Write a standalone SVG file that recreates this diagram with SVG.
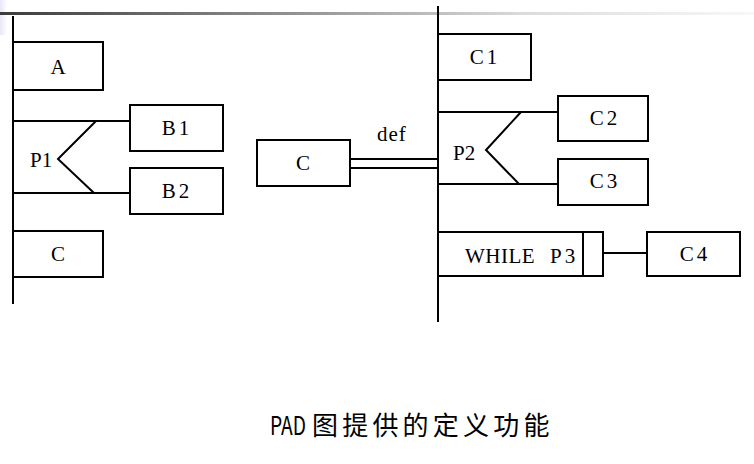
<svg xmlns="http://www.w3.org/2000/svg" width="754" height="464" viewBox="0 0 754 464">
<defs>
<linearGradient id="bar" x1="0" y1="0" x2="1" y2="0">
<stop offset="0" stop-color="#3c3c3c"/>
<stop offset="0.45" stop-color="#a0a0a0"/>
<stop offset="0.7" stop-color="#dcdcdc"/>
<stop offset="1" stop-color="#f8f8f8"/>
</linearGradient>
<linearGradient id="side" x1="0" y1="0" x2="1" y2="0">
<stop offset="0" stop-color="#e8e8f6"/>
<stop offset="1" stop-color="#fafaff"/>
</linearGradient>
</defs>
<style>
.box{fill:#fff;stroke:#000;stroke-width:2}
.ln{fill:none;stroke:#000;stroke-width:2}
.t{font-family:'Liberation Serif','Times New Roman','DejaVu Serif',serif;font-size:21px;fill:#000}
.m{text-anchor:middle}
.cap{font-family:'Noto Sans CJK SC','Noto Sans',sans-serif;font-size:26px;fill:#000}
</style>
<rect x="0" y="0" width="754" height="464" fill="#fff"/>
<rect x="0" y="0" width="6" height="35" fill="url(#side)"/>
<rect x="0" y="12" width="754" height="3" fill="url(#bar)"/>

<g id="connectors">
<line class="ln" x1="13" y1="16" x2="13" y2="304"/>
<line class="ln" x1="13" y1="121" x2="130" y2="121"/>
<line class="ln" x1="13" y1="193" x2="130" y2="193"/>
<polyline class="ln" points="96,121 58,159 94,193"/>
<line class="ln" x1="350" y1="159" x2="438" y2="159"/>
<line class="ln" x1="350" y1="168" x2="438" y2="168"/>
<line class="ln" x1="438" y1="6" x2="438" y2="322"/>
<line class="ln" x1="438" y1="112" x2="558" y2="112"/>
<line class="ln" x1="438" y1="184" x2="558" y2="184"/>
<polyline class="ln" points="521,112 486,150 519,184"/>
<line class="ln" x1="603" y1="253" x2="647" y2="253"/>
</g>

<g id="labels">
<text class="t" x="377" y="141" letter-spacing="1">def</text>
<text class="t" x="30" y="167">P1</text>
<text class="t" x="453" y="160">P2</text>
</g>
<g id="A"><rect class="box" x="13" y="42" width="90" height="48"/><text class="t m" x="58" y="74">A</text></g>
<g id="B1"><rect class="box" x="130" y="105" width="93" height="46"/><text class="t m" x="177" y="135" letter-spacing="3">B1</text></g>
<g id="B2"><rect class="box" x="130" y="168" width="93" height="46"/><text class="t m" x="177" y="198" letter-spacing="3">B2</text></g>
<g id="C-left"><rect class="box" x="13" y="231" width="90" height="46"/><text class="t m" x="58" y="261">C</text></g>
<g id="C-mid"><rect class="box" x="257" y="140" width="93" height="46"/><text class="t m" x="303" y="170">C</text></g>
<g id="C1"><rect class="box" x="438" y="34" width="93" height="46"/><text class="t m" x="485" y="64" letter-spacing="3">C1</text></g>
<g id="C2"><rect class="box" x="558" y="96" width="90" height="45"/><text class="t m" x="605" y="125" letter-spacing="3">C2</text></g>
<g id="C3"><rect class="box" x="558" y="159" width="90" height="46"/><text class="t m" x="605" y="188" letter-spacing="3">C3</text></g>
<g id="WHILE"><rect class="box" x="438" y="232" width="165" height="44"/><line class="ln" x1="583" y1="232" x2="583" y2="276"/><text class="t" x="465" y="263" letter-spacing="0.5">WHILE</text><text class="t" x="550" y="263" letter-spacing="3">P3</text></g>
<g id="C4"><rect class="box" x="647" y="232" width="93" height="44"/><text class="t m" x="695" y="261" letter-spacing="3">C4</text></g>

<g id="caption">
<text class="cap" transform="translate(270,435) scale(0.74,1)">PAD</text>
<text class="cap" x="312 342.2 372.4 402.6 432.8 463 493.2 523.4" y="435">图提供的定义功能</text>
</g>
</svg>
